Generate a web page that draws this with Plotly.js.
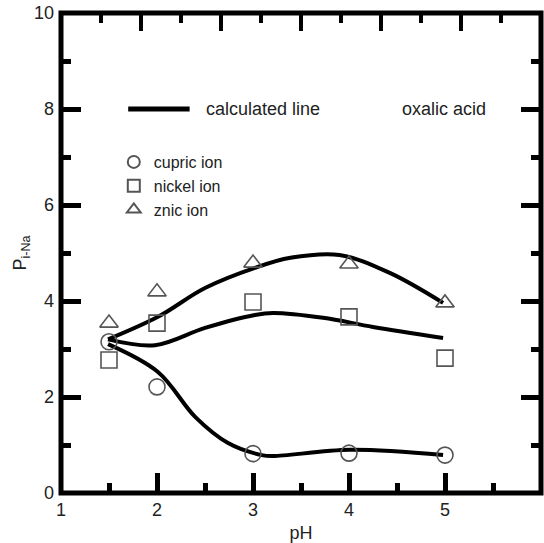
<!DOCTYPE html>
<html><head><meta charset="utf-8">
<script src="https://cdn.plot.ly/plotly-3.0.1.min.js"></script>
<style>html,body{margin:0;padding:0;background:#fff}#chart{width:544px;height:543px}</style>
</head><body><div id="chart"></div>
<script>
// measured points
const phPoints = [1.5, 2, 3, 4, 5];
const cupricY = [3.15, 2.21, 0.82, 0.83, 0.79];
const nickelY = [2.77, 3.54, 3.98, 3.67, 2.81];
const znicY = [3.54, 4.19, 4.79, 4.77, 3.96];
// calculated lines
const cupricCurveX = [1.49, 2.01, 2.4, 2.74, 3.09, 3.21, 4.01, 4.98];
const cupricCurveY = [3.1, 2.52, 1.58, 1.04, 0.79, 0.77, 0.9, 0.79];
const nickelCurveX = [1.49, 1.98, 2.5, 3.02, 3.21, 3.73, 4.25, 4.98];
const nickelCurveY = [3.2, 3.08, 3.44, 3.71, 3.75, 3.65, 3.46, 3.23];
const znicCurveX = [1.49, 2.01, 2.5, 3.02, 3.39, 3.9, 4.43, 4.98];
const znicCurveY = [3.2, 3.67, 4.27, 4.69, 4.9, 4.96, 4.58, 3.96];
const seriesNames = ['cupric ion', 'nickel ion', 'znic ion'];
// tick positions
const xMajorTicks = [1, 2, 3, 4, 5, 6];
const xMinorTicks = [1.5, 2.5, 3.5, 4.5, 5.5];
const topMajorTicks = [1, 2, 3, 4, 5];
const yMajorTicks = [0, 2, 4, 6, 8, 10];
const yMinorTicks = [1, 3, 5, 7, 9];

const fam = '"Liberation Sans", Arial, sans-serif';
const font = {family: fam, size: 18, color: '#222'};
const mk = (sym) => ({symbol: sym, size: 16, color: '#555', line: {color: '#555', width: 1.6}});
const curve = (x, y) => ({x, y, mode: 'lines', line: {color: '#000', width: 4, shape: 'spline', smoothing: 1}, showlegend: false, hoverinfo: 'skip'});
const hidden = (xa, ya) => ({x: phPoints, y: cupricY, xaxis: xa, yaxis: ya, mode: 'markers', marker: {opacity: 0}, showlegend: false, hoverinfo: 'skip'});

const traces = [
  curve(cupricCurveX, cupricCurveY),
  curve(nickelCurveX, nickelCurveY),
  curve(znicCurveX, znicCurveY),
  {x: phPoints, y: cupricY, mode: 'markers', name: seriesNames[0], marker: mk('circle-open')},
  {x: phPoints, y: nickelY, mode: 'markers', name: seriesNames[1], marker: mk('square-open')},
  {x: phPoints, y: znicY, mode: 'markers', name: seriesNames[2], marker: mk('triangle-up-open')},
  hidden('x2', 'y'), hidden('x3', 'y'), hidden('x', 'y2')
];

const base = {showgrid: false, zeroline: false, showline: false, tickcolor: '#000', automargin: false, ticks: 'inside'};

const layout = {
  width: 544, height: 543,
  margin: {l: 61, r: 3, t: 13, b: 50},
  paper_bgcolor: '#fff', plot_bgcolor: '#fff',
  font: font,
  showlegend: true,
  legend: {x: 0.11, y: 0.725, xanchor: 'left', yanchor: 'top', bgcolor: 'rgba(0,0,0,0)',
           font: {family: fam, size: 16, color: '#222'}, itemsizing: 'constant', tracegroupgap: 0},
  xaxis: Object.assign({}, base, {range: [1, 6], tickvals: xMajorTicks, ticklen: 20, tickwidth: 5, ticklabelstandoff: 4,
          tickfont: font, title: {text: 'pH', font: font, standoff: 12}}),
  xaxis3: Object.assign({}, base, {overlaying: 'x', anchor: 'y', side: 'bottom', range: [1, 6], tickvals: xMinorTicks,
          ticklen: 10, tickwidth: 5, showticklabels: false}),
  xaxis2: Object.assign({}, base, {overlaying: 'x', anchor: 'y', side: 'top', range: [0, 6], tickvals: topMajorTicks,
          ticklen: 18, tickwidth: 4, showticklabels: false,
          minor: {tick0: 0.5, dtick: 1, ticks: 'inside', ticklen: 10, tickwidth: 4, tickcolor: '#000'}}),
  yaxis: Object.assign({}, base, {range: [0, 10], tickvals: yMajorTicks, ticklen: 20, tickwidth: 5, mirror: 'ticks',
          ticklabelstandoff: 6, tickfont: font,
          title: {text: 'P<sub>i-Na</sub>', font: font, standoff: 2}}),
  yaxis2: Object.assign({}, base, {overlaying: 'y', anchor: 'x', side: 'left', range: [0, 10], tickvals: yMinorTicks,
          ticklen: 10, tickwidth: 5, mirror: 'ticks', showticklabels: false}),
  shapes: [
    {type: 'rect', xref: 'paper', yref: 'paper', x0: 0, x1: 1, y0: 0, y1: 1, line: {color: '#000', width: 5}, layer: 'above'},
    {type: 'line', xref: 'x', yref: 'y', x0: 1.7, x1: 2.34, y0: 8, y1: 8, line: {color: '#000', width: 5}}
  ],
  annotations: [
    {xref: 'x', yref: 'y', x: 2.49, y: 8, xanchor: 'left', yanchor: 'middle', text: 'calculated line', showarrow: false, font: font},
    {xref: 'x', yref: 'y', x: 4.53, y: 8, xanchor: 'left', yanchor: 'middle', text: 'oxalic acid', showarrow: false, font: font}
  ]
};
Plotly.newPlot('chart', traces, layout, {staticPlot: true}).then(function (gd) {
  return Plotly.relayout(gd, {'xaxis.ticklen': 20, 'yaxis.ticklen': 20, 'xaxis2.ticklen': 18});
});
</script></body></html>
